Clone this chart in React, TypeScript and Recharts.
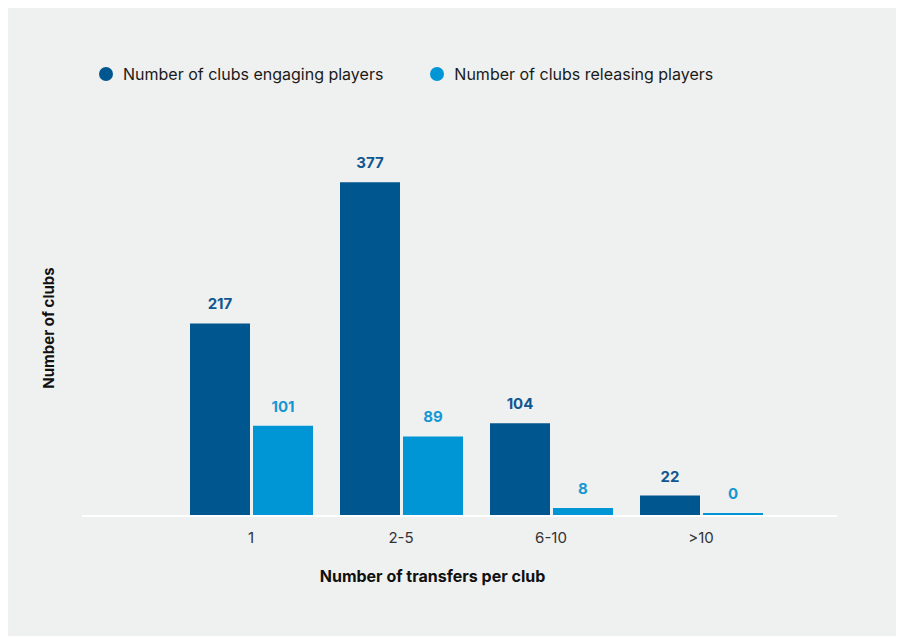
import React from 'react';
import { BarChart, Bar, XAxis, YAxis, LabelList } from 'recharts';

const categories = ['1', '2-5', '6-10', '>10'];
const engaging = [217, 377, 104, 22];
const releasing = [101, 89, 8, 0];

const seriesNames = ['Number of clubs engaging players', 'Number of clubs releasing players'];
const DARK = '#00568f';
const LIGHT = '#0095d5';
const FONT = 'Inter, "Noto Sans", sans-serif';

const data = categories.map((c, i) => ({
  category: c,
  engaging: engaging[i],
  releasing: releasing[i],
}));

const App: React.FC = () => {
  return (
    <div
      style={{
        position: 'relative',
        width: 895,
        height: 628,
        background: '#eff0f0',
        fontFamily: FONT,
      }}
    >
      <style>{'html, body { overflow: hidden; }'}</style>

      {/* legend */}
      <div
        style={{
          position: 'absolute',
          top: 56,
          left: 91,
          display: 'flex',
          alignItems: 'center',
          fontSize: 16,
          color: '#1a1a1a',
        }}
      >
        {seriesNames.map((name, i) => (
          <div key={name} style={{ display: 'flex', alignItems: 'center', marginRight: 47 }}>
            <span
              style={{
                width: 14,
                height: 14,
                borderRadius: '50%',
                background: i === 0 ? DARK : LIGHT,
                marginRight: 10,
                display: 'inline-block',
              }}
            />
            <span>{name}</span>
          </div>
        ))}
      </div>

      {/* y axis title */}
      <div
        style={{
          position: 'absolute',
          left: 40,
          top: 320,
          transform: 'translate(-50%, -50%) rotate(-90deg)',
          whiteSpace: 'nowrap',
          fontSize: 15,
          fontWeight: 700,
          color: '#111',
        }}
      >
        Number of clubs
      </div>

      <BarChart
        width={895}
        height={628}
        data={data}
        margin={{ top: 154, right: 66, bottom: 91, left: 74 }}
        barSize={60}
        barGap={3}
      >
        <XAxis
          dataKey="category"
          padding={{ left: 94, right: 61 }}
          axisLine={{ stroke: '#ffffff', strokeWidth: 2, transform: 'translate(0,1)' }}
          tickLine={false}
          tickSize={0}
          tickMargin={17}
          height={30}
          tick={{ fill: '#333', fontSize: 15, fontFamily: FONT }}
          label={{
            value: 'Number of transfers per club',
            position: 'bottom',
            dx: -27,
            dy: 21,
            fill: '#111',
            fontSize: 16,
            fontWeight: 700,
            fontFamily: FONT,
          }}
        />
        <YAxis hide domain={[0, 400]} />
        <Bar dataKey="engaging" fill={DARK} isAnimationActive={false}>
          <LabelList
            dataKey="engaging"
            position="top"
            offset={14}
            fill="#11568f"
            fontSize={15}
            fontWeight={700}
            fontFamily={FONT}
          />
        </Bar>
        <Bar dataKey="releasing" fill={LIGHT} minPointSize={2} isAnimationActive={false}>
          <LabelList
            dataKey="releasing"
            position="top"
            offset={14}
            fill="#1597d3"
            fontSize={15}
            fontWeight={700}
            fontFamily={FONT}
          />
        </Bar>
      </BarChart>
    </div>
  );
};

export default App;
